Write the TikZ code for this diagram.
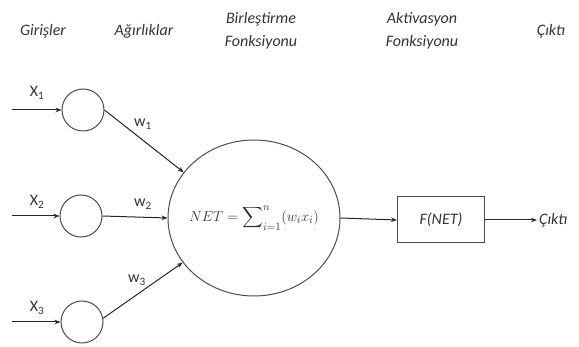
\documentclass[tikz,border=0pt]{standalone}
\usepackage{fontspec}
\setmainfont{Carlito}
\usepackage{amsmath}
\usetikzlibrary{shapes.geometric,arrows.meta}

\tikzset{
  girdi/.style={circle, draw=black!70, line width=1pt, minimum size=42pt, inner sep=0pt},
  ok/.style={-{Stealth[length=6pt,width=4.5pt]}, line width=1pt, draw=black!85},
  baslik/.style={font=\fontsize{16}{23}\selectfont\itshape, align=center},
}

\begin{document}
\begin{tikzpicture}[x=1pt, y=-1pt, font=\fontsize{16}{19}\selectfont, text=black!80]
	\useasboundingbox (0,0) rectangle (579,347);
	% basliklar
	\node[baslik] (hgiris) at (43,31) {Girişler};
	\node[baslik] (hagirlik) at (144,31) {Ağırlıklar};
	\node[baslik] (hbirles) at (261,31) {Birleştirme\\Fonksiyonu};
	\node[baslik] (haktiv) at (422,31) {Aktivasyon\\Fonksiyonu};
	\node[baslik] (hcikti) at (551,31) {Çıktı};
	% girdiler
	\node[girdi] (n1) at (83,110) {};
	\node[girdi] (n2) at (81,216) {};
	\node[girdi] (n3) at (82,322) {};
	\coordinate (s1) at (12,110);
	\coordinate (s2) at (12,216);
	\coordinate (s3) at (12,322);
	\draw[ok] (s1) -- (n1);
	\draw[ok] (s2) -- (n2);
	\draw[ok] (s3) -- (n3);
	\node (x1) at (37,93) {X\textsubscript{1}};
	\node (x2) at (37,202) {X\textsubscript{2}};
	\node (x3) at (37,308) {X\textsubscript{3}};
	% toplama
	\node[draw=black!70, ellipse, line width=1pt, inner xsep=-30pt, minimum width=172pt, minimum height=156pt,
		font=\fontsize{15}{18}\selectfont] (net) at (254,218)
		{$NET = \displaystyle\sum\nolimits_{i=1}^{n} (w_i x_i)$\hspace{12pt}};
	\draw[ok] (n1.east) -- (net.147);
	\draw[ok] (n2.east) -- (net.west);
	\draw[ok] (n3.10) -- (net.212);
	\node (w1) at (143,124) {w\textsubscript{1}};
	\node (w2) at (143,204) {w\textsubscript{2}};
	\node (w3) at (137,280) {w\textsubscript{3}};
	% aktivasyon
	\node[draw=black!70, line width=1pt, minimum width=87pt, minimum height=46pt] (fnet) at (441,220) {\itshape F(NET)};
	\node[anchor=west, inner sep=2pt] (cikti) at (537,220) {\itshape Çıktı};
	\draw[ok] (net.east) -- (fnet.west);
	\draw[ok] (fnet.east) -- (cikti.west);
\end{tikzpicture}
\end{document}
